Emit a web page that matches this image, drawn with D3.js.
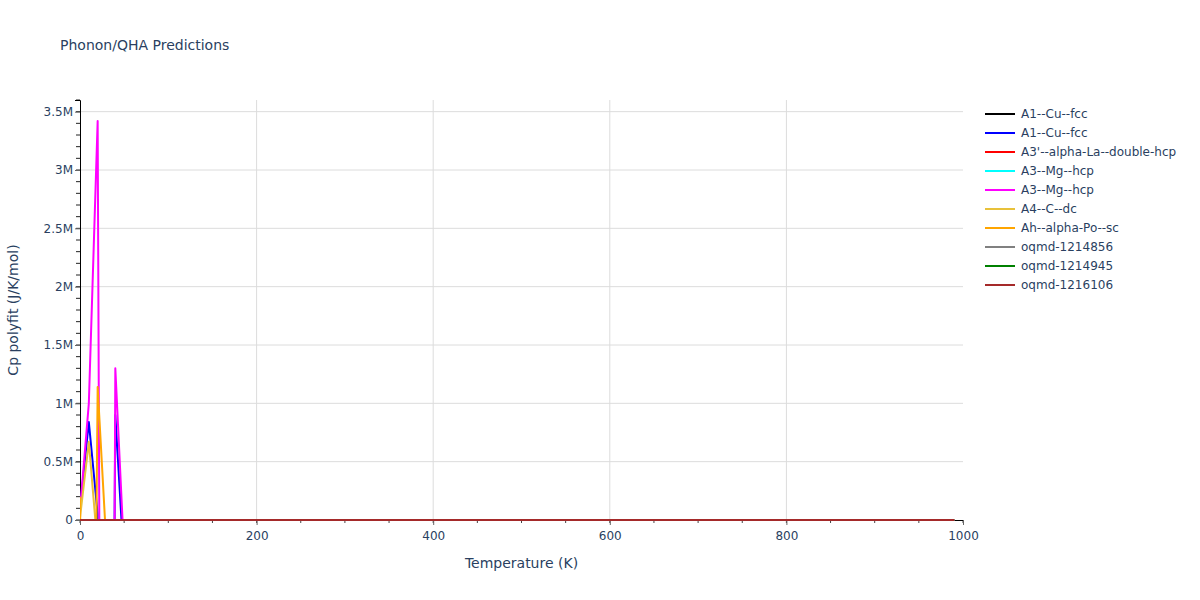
<!DOCTYPE html>
<html>
<head>
<meta charset="utf-8">
<script src="https://cdn.jsdelivr.net/npm/d3@7/dist/d3.min.js"></script>
<style>
  body { margin: 0; background: #fff; }
  text { font-family: "DejaVu Sans", Verdana, sans-serif; fill: #2a3f5f; }
</style>
</head>
<body>
<div id="chart"></div>
<script>
// temperatures (K) shared by every trace
var temps = [0, 10, 20, 30, 40, 50, 60, 80, 100, 150, 200, 300, 400, 500, 600, 700, 800, 900, 990]

var names = ['A1--Cu--fcc', 'A1--Cu--fcc', "A3'--alpha-La--double-hcp", 'A3--Mg--hcp', 'A3--Mg--hcp',
  'A4--C--dc', 'Ah--alpha-Po--sc', 'oqmd-1214856', 'oqmd-1214945', 'oqmd-1216106']
var colors = ['black', 'blue', 'red', 'cyan', 'magenta', '#e8c13a', 'orange', 'gray', 'green', 'brown']

// Cp polyfit values (J/K/mol)
var cuA = [0, 0.9, 5.1, 10.2, 14.2, 17.0, 19.0, 21.1, 22.4, 23.6, 24.2, 24.7, 25.1, 25.4, 25.7, 26.0, 26.3, 26.6, 26.9]
var cuB = [100000, 840000, 50000, -10000000, 900000, -390000, -20, 21.0, 22.3, 23.5, 24.1, 24.6, 25.0, 25.3, 25.6, 25.9, 26.2, 26.5, 26.8]
var la = [0, 4.2, 12.8, 18.5, 21.3, 22.9, 23.8, 24.7, 25.1, 25.6, 25.9, 26.4, 26.9, 27.4, 27.9, 28.4, 28.9, 29.4, 29.8]
var mgA = [0, 1.5, 6.9, 12.1, 15.8, 18.2, 19.8, 21.7, 22.8, 23.9, 24.5, 25.1, 25.6, 26.1, 26.6, 27.1, 27.6, 28.1, 28.6]
var mgB = [80000, 1000000, 3420000, -15000000, 1300000, -290000, -15, 21.6, 22.7, 23.8, 24.4, 25.0, 25.5, 26.0, 26.5, 27.0, 27.5, 28.0, 28.5]
var cDc = [20000, 670000, -240000, -20000, -10, 0.6, 0.9, 1.8, 2.9, 5.6, 8.4, 12.9, 15.8, 17.8, 19.3, 20.4, 21.2, 21.9, 22.4]
var poSc = [200000, -7000000, 1140000, -230000, -30, 20.1, 21.6, 23.0, 23.8, 24.6, 25.0, 25.4, 25.7, 26.0, 26.3, 26.6, 26.9, 27.2, 27.5]
var oq1 = [0, 2.1, 8.6, 14.3, 17.9, 20.1, 21.5, 23.0, 23.8, 24.7, 25.1, 25.5, 25.8, 26.1, 26.4, 26.7, 27.0, 27.3, 27.6]
var oq2 = [0, 1.2, 6.0, 11.2, 15.0, 17.6, 19.3, 21.4, 22.6, 23.8, 24.4, 24.9, 25.3, 25.6, 25.9, 26.2, 26.5, 26.8, 27.1]
var oq3 = [0, 3.0, 10.5, 16.2, 19.5, 21.4, 22.6, 23.8, 24.4, 25.0, 25.3, 25.7, 26.0, 26.3, 26.6, 26.9, 27.2, 27.5, 27.8]
var series = [cuA, cuB, la, mgA, mgB, cDc, poSc, oq1, oq2, oq3]

var xTicks = [0, 200, 400, 600, 800, 1000]
var yTicks = [0, 500000, 1000000, 1500000, 2000000, 2500000, 3000000, 3500000]
var yTickLabels = ['0', '0.5M', '1M', '1.5M', '2M', '2.5M', '3M', '3.5M']

var width = 1200
var height = 600
var margin = { top: 100, left: 80, bottom: 80, right: 237 }
var chartWidth = width - margin.left - margin.right
var chartHeight = height - margin.top - margin.bottom

var svg = d3.select('#chart').append('svg')
  .attr('width', width)
  .attr('height', height)

var x = d3.scaleLinear().domain([0, 1000]).range([0, chartWidth])
var y = d3.scaleLinear().domain([0, 3600000]).range([chartHeight, 0])

var g = svg.append('g').attr('transform', 'translate(' + margin.left + ',' + margin.top + ')')

// grid
g.selectAll('.ygrid').data(yTicks.slice(1)).enter().append('line')
  .attr('x1', 0).attr('x2', chartWidth)
  .attr('y1', function (d) { return y(d) }).attr('y2', function (d) { return y(d) })
  .attr('stroke', '#dcdcdc')
g.selectAll('.xgrid').data(xTicks.slice(1, -1)).enter().append('line')
  .attr('y1', 0).attr('y2', chartHeight)
  .attr('x1', function (d) { return x(d) }).attr('x2', function (d) { return x(d) })
  .attr('stroke', '#dcdcdc')

// minor ticks
var xMinor = d3.range(0, 1001, 50)
var yMinor = d3.range(0, 3600001, 100000)
g.selectAll('.xminor').data(xMinor).enter().append('line')
  .attr('x1', function (d) { return x(d) }).attr('x2', function (d) { return x(d) })
  .attr('y1', chartHeight).attr('y2', chartHeight + 3)
  .attr('stroke', '#444')
g.selectAll('.yminor').data(yMinor).enter().append('line')
  .attr('y1', function (d) { return y(d) }).attr('y2', function (d) { return y(d) })
  .attr('x1', -4).attr('x2', 0)
  .attr('stroke', '#222')

// axes
var xAxis = g.append('g')
  .attr('transform', 'translate(0,' + chartHeight + ')')
  .call(d3.axisBottom(x).tickValues(xTicks).tickSize(5).tickPadding(6).tickFormat(d3.format('d')))
var yAxis = g.append('g')
  .call(d3.axisLeft(y).tickValues(yTicks).tickSize(5).tickPadding(2)
    .tickFormat(function (d, i) { return yTickLabels[i] }))

;[xAxis, yAxis].forEach(function (a) {
  a.select('.domain').attr('stroke', 'black')
  a.selectAll('.tick line').attr('stroke', '#666')
  a.selectAll('.tick text').attr('font-size', 12).attr('fill', '#2a3f5f')
    .attr('font-family', '"DejaVu Sans", Verdana, sans-serif')
})

// traces
svg.append('clipPath').attr('id', 'plotclip')
  .append('rect').attr('x', 0).attr('y', 0).attr('width', chartWidth).attr('height', chartHeight + 1)

var line = d3.line()
  .x(function (d, i) { return x(temps[i]) })
  .y(function (d) { return y(d) })

var traces = g.append('g').attr('clip-path', 'url(#plotclip)')
for (var i = 0; i < series.length; i++) {
  traces.append('path')
    .attr('d', line(series[i]))
    .attr('fill', 'none')
    .attr('stroke', colors[i])
    .attr('stroke-width', 2)
    .attr('stroke-linejoin', 'round')
}

// titles
svg.append('text')
  .attr('x', 60).attr('y', 50)
  .attr('font-size', 14)
  .text('Phonon/QHA Predictions')

svg.append('text')
  .attr('x', margin.left + chartWidth / 2).attr('y', 568)
  .attr('text-anchor', 'middle')
  .attr('font-size', 14)
  .text('Temperature (K)')

svg.append('text')
  .attr('transform', 'translate(18,' + (margin.top + chartHeight / 2) + ') rotate(-90)')
  .attr('text-anchor', 'middle')
  .attr('font-size', 14)
  .text('Cp polyfit (J/K/mol)')

// legend
var legend = svg.append('g').attr('transform', 'translate(985,114)')
for (var j = 0; j < names.length; j++) {
  legend.append('line')
    .attr('x1', 0).attr('x2', 30)
    .attr('y1', j * 19).attr('y2', j * 19)
    .attr('stroke', colors[j])
    .attr('stroke-width', 2)
  legend.append('text')
    .attr('x', 36).attr('y', j * 19 + 4)
    .attr('font-size', 12)
    .text(names[j])
}
</script>
</body>
</html>
